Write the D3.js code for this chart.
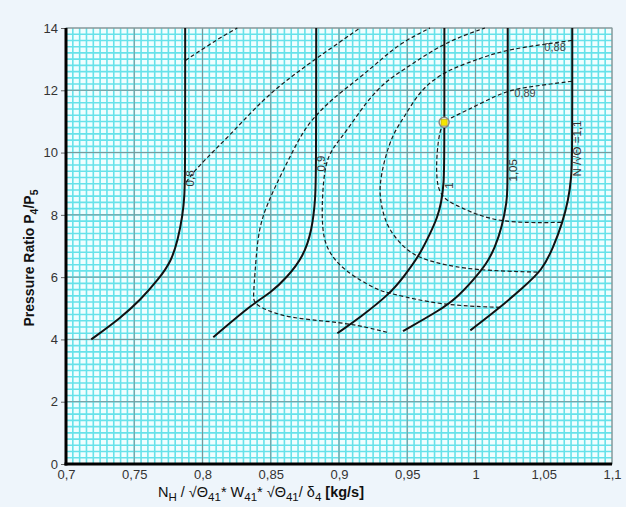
<!DOCTYPE html>
<html>
<head>
<meta charset="utf-8">
<script src="https://cdn.jsdelivr.net/npm/d3@7"></script>
<style>
  body { margin: 0; background: #eef5fb; }
  svg { display: block; font-family: "Liberation Sans", Arial, sans-serif; }
</style>
</head>
<body>
<div id="container"></div>
<script>
/* CONSTANTS AND GLOBALS */
const width = 626,
  height = 507,
  margin = { top: 28, bottom: 43, left: 66, right: 14 }

/* DATA */
const xTicks = [0.7, 0.75, 0.8, 0.85, 0.9, 0.95, 1, 1.05, 1.1]
const xTickLabels = ["0,7", "0,75", "0,8", "0,85", "0,9", "0,95", "1", "1,05", "1,1"]
const yTicks = [0, 2, 4, 6, 8, 10, 12, 14]
const yTickLabels = ["0", "2", "4", "6", "8", "10", "12", "14"]

// speed lines N/sqrt(theta)
const speedNames = ["0,8", "0,9", "1", "1,05", "N /√Θ =1,1"]
const speed08 = [[0.7873, 14], [0.7873, 9.3], [0.7868, 8.6], [0.7855, 8.0], [0.782, 7.2], [0.777, 6.5], [0.7683, 5.96], [0.7544, 5.26], [0.7398, 4.68], [0.7185, 4.0]]
const speed09 = [[0.8833, 14], [0.8832, 9.4], [0.8828, 8.56], [0.8803, 7.51], [0.8737, 6.64], [0.862, 6.0], [0.8496, 5.48], [0.8371, 5.16], [0.8079, 4.07]]
const speed10 = [[0.9772, 14], [0.9772, 9.8], [0.9768, 9.0], [0.975, 8.4], [0.9721, 7.92], [0.9669, 7.41], [0.9581, 6.64], [0.9471, 6.0], [0.9376, 5.48], [0.9156, 4.71], [0.8988, 4.2]]
const speed105 = [[1.0236, 14], [1.0236, 9.6], [1.0233, 8.8], [1.0231, 8.47], [1.0194, 7.6], [1.0143, 6.96], [1.0084, 6.44], [0.9982, 5.9], [0.9865, 5.35], [0.974, 4.94], [0.9469, 4.27]]
const speed11 = [[1.0709, 14], [1.0709, 10.0], [1.0703, 9.2], [1.068, 8.47], [1.0636, 7.73], [1.057, 6.96], [1.0489, 6.22], [1.035, 5.68], [1.0182, 5.03], [0.9962, 4.29]]
const speedLabelY = [9.17, 9.65, 8.94, 9.43, 10.13]

// efficiency contours
const effE = [[0.7875, 12.96], [0.8131, 13.7], [0.8255, 14]]
const effF = [[0.788, 9.05], [0.7961, 9.53], [0.8202, 10.56], [0.8444, 11.71], [0.8642, 12.41], [0.8832, 13.02], [0.9154, 14]]
const effA = [[0.9352, 4.23], [0.9081, 4.52], [0.8788, 4.62], [0.8547, 4.78], [0.8378, 5.13], [0.8371, 5.35], [0.8386, 6.22], [0.8408, 7.5], [0.8474, 8.37], [0.8591, 9.43], [0.8737, 10.71], [0.8832, 11.19], [0.8935, 11.67], [0.9154, 12.41], [0.9301, 12.96], [0.9447, 13.51], [0.9667, 14]]
const effB = [[1.018, 5.03], [0.974, 5.1], [0.9374, 5.48], [0.928, 5.58], [0.903, 6.22], [0.8913, 6.86], [0.8876, 7.5], [0.8876, 8.56], [0.8898, 9.65], [0.8957, 10.17], [0.9059, 10.71], [0.9206, 11.67], [0.9352, 12.32], [0.9447, 12.58], [0.9769, 13.54], [1.0069, 14]]
const effC = [[1.0706, 13.6], [1.0238, 13.32], [1.0055, 13.06], [0.9769, 12.61], [0.9593, 12.0], [0.9477, 11.13], [0.9396, 10.62], [0.933, 9.75], [0.9294, 8.89], [0.9308, 8.31], [0.9352, 7.6], [0.9469, 6.96], [0.9579, 6.64], [0.9718, 6.45], [0.9974, 6.22], [1.0472, 6.16]]
const effD = [[1.0706, 12.29], [1.0421, 12.13], [1.0238, 12.0], [1.0084, 11.68], [0.9938, 11.36], [0.9813, 11.1], [0.977, 10.97], [0.9739, 10.72], [0.9718, 10.07], [0.9711, 9.21], [0.974, 8.56], [0.9887, 8.24], [1.0157, 7.73], [1.0633, 7.76]]
const effLabels = [{ text: "0,88", x: 1.0583, y: 13.38 }, { text: "0,89", x: 1.0363, y: 11.9 }]

// operating point
const opPoint = [0.977, 10.97]

/* SCALES */
const xScale = d3.scaleLinear()
  .domain([0.7, 1.1])
  .range([margin.left, width - margin.right])

const yScale = d3.scaleLinear()
  .domain([0, 14])
  .range([height - margin.bottom, margin.top])

const svg = d3.select("#container")
  .append("svg")
  .attr("width", width)
  .attr("height", height)

const plotW = width - margin.left - margin.right
const plotH = height - margin.top - margin.bottom

// grid background
svg.append("rect")
  .attr("x", margin.left)
  .attr("y", margin.top)
  .attr("width", plotW)
  .attr("height", plotH)
  .attr("fill", "#f0feff")

const minorX = d3.range(1, 80).map(i => 0.7 + i * 0.005)
const minorY = d3.range(1, 70).map(i => i * 0.2)

svg.append("g")
  .selectAll("line")
  .data(minorX)
  .join("line")
  .attr("x1", d => xScale(d))
  .attr("x2", d => xScale(d))
  .attr("y1", margin.top)
  .attr("y2", height - margin.bottom)
  .attr("stroke", "#66e2ea")
  .attr("stroke-width", 1.6)

svg.append("g")
  .selectAll("line")
  .data(minorY)
  .join("line")
  .attr("y1", d => yScale(d))
  .attr("y2", d => yScale(d))
  .attr("x1", margin.left)
  .attr("x2", width - margin.right)
  .attr("stroke", "#66e2ea")
  .attr("stroke-width", 1.6)

// major grid
svg.append("g")
  .selectAll("line")
  .data(xTicks)
  .join("line")
  .attr("x1", d => xScale(d))
  .attr("x2", d => xScale(d))
  .attr("y1", margin.top)
  .attr("y2", height - margin.bottom)
  .attr("stroke", "#7d9496")
  .attr("stroke-width", 1)

svg.append("g")
  .selectAll("line")
  .data(yTicks)
  .join("line")
  .attr("y1", d => yScale(d))
  .attr("y2", d => yScale(d))
  .attr("x1", margin.left)
  .attr("x2", width - margin.right)
  .attr("stroke", "#7d9496")
  .attr("stroke-width", 1)

// frame
svg.append("rect")
  .attr("x", margin.left)
  .attr("y", margin.top)
  .attr("width", plotW)
  .attr("height", plotH)
  .attr("fill", "none")
  .attr("stroke", "#8a9a9c")

/* AXES */
const xAxis = d3.axisBottom(xScale)
  .tickValues(xTicks)
  .tickFormat((d, i) => xTickLabels[i])
  .tickSize(0)
  .tickPadding(6)

const yAxis = d3.axisLeft(yScale)
  .tickValues(yTicks)
  .tickFormat((d, i) => yTickLabels[i])
  .tickSize(5)
  .tickPadding(3)

svg.append("g")
  .attr("transform", `translate(0,${height - margin.bottom})`)
  .call(xAxis)
  .call(g => g.select(".domain").remove())
  .call(g => g.selectAll("text").attr("font-size", 13).attr("fill", "#333").attr("font-family", "Liberation Sans, Arial, sans-serif"))

svg.append("g")
  .attr("transform", `translate(${margin.left},0)`)
  .call(yAxis)
  .call(g => g.select(".domain").remove())
  .call(g => g.selectAll("line").attr("stroke", "#666"))
  .call(g => g.selectAll("text").attr("font-size", 13).attr("fill", "#333").attr("font-family", "Liberation Sans, Arial, sans-serif"))

svg.append("line")
  .attr("x1", margin.left).attr("x2", margin.left)
  .attr("y1", margin.top).attr("y2", height - margin.bottom + 1.5)
  .attr("stroke", "#000").attr("stroke-width", 3)

svg.append("line")
  .attr("x1", margin.left - 1.5).attr("x2", width - margin.right)
  .attr("y1", height - margin.bottom).attr("y2", height - margin.bottom)
  .attr("stroke", "#000").attr("stroke-width", 3)

/* LINES */
const line = d3.line()
  .x(d => xScale(d[0]))
  .y(d => yScale(d[1]))
  .curve(d3.curveBasis)

const effLines = [effE, effF, effA, effB, effC, effD]
svg.append("g")
  .selectAll("path")
  .data(effLines)
  .join("path")
  .attr("d", d => line(d))
  .attr("fill", "none")
  .attr("stroke", "#1a1a1a")
  .attr("stroke-width", 1.2)
  .attr("stroke-dasharray", "4,2.5")

const speedLines = [speed08, speed09, speed10, speed105, speed11]
svg.append("g")
  .selectAll("path")
  .data(speedLines)
  .join("path")
  .attr("d", d => line(d))
  .attr("fill", "none")
  .attr("stroke", "#111")
  .attr("stroke-width", 2)

// speed labels
svg.append("g")
  .selectAll("text")
  .data(speedNames)
  .join("text")
  .attr("transform", (d, i) => `translate(${xScale(speedLines[i][0][0]) + 9},${yScale(speedLabelY[i])}) rotate(-90)`)
  .attr("text-anchor", "middle")
  .attr("font-size", 11.5)
  .attr("fill", "#333")
  .text(d => d)

// efficiency labels
svg.append("g")
  .selectAll("text")
  .data(effLabels)
  .join("text")
  .attr("x", d => xScale(d.x))
  .attr("y", d => yScale(d.y))
  .attr("dy", "0.35em")
  .attr("text-anchor", "middle")
  .attr("font-size", 11)
  .attr("fill", "#444")
  .text(d => d.text)

// operating point
svg.append("circle")
  .attr("cx", xScale(opPoint[0]))
  .attr("cy", yScale(opPoint[1]))
  .attr("r", 5)
  .attr("fill", "#eeeecc")
  .attr("stroke", "#888")
  .attr("stroke-width", 1.5)

svg.append("rect")
  .attr("x", xScale(opPoint[0]) - 3)
  .attr("y", yScale(opPoint[1]) - 3)
  .attr("width", 6)
  .attr("height", 6)
  .attr("fill", "#f5e600")
  .attr("stroke", "#b0a000")
  .attr("stroke-width", 0.5)

/* AXIS TITLES */
const xTitle = svg.append("text")
  .attr("x", 261)
  .attr("y", 497)
  .attr("text-anchor", "middle")
  .attr("font-size", 14.5)
  .attr("fill", "#111")

const subParts = [
  ["N", false], ["H", true], [" / √Θ", false], ["41", true], ["* W", false], ["41", true],
  ["* √Θ", false], ["41", true], ["/ δ", false], ["4", true]
]
subParts.forEach(([t, sub], i) => {
  const prevSub = i > 0 && subParts[i - 1][1]
  xTitle.append("tspan")
    .attr("dy", sub ? 4 : (prevSub ? -4 : 0))
    .attr("font-size", sub ? 11.5 : 14.5)
    .text(t)
})
xTitle.append("tspan")
  .attr("dy", -4)
  .attr("font-weight", "bold")
  .text(" [kg/s]")

const yTitle = svg.append("text")
  .attr("transform", "translate(34,258) rotate(-90)")
  .attr("text-anchor", "middle")
  .attr("font-size", 14)
  .attr("font-weight", "bold")
  .attr("fill", "#111")

yTitle.append("tspan").text("Pressure  Ratio P")
yTitle.append("tspan").attr("dy", 4).attr("font-size", 10.5).text("4")
yTitle.append("tspan").attr("dy", -4).text("/P")
yTitle.append("tspan").attr("dy", 4).attr("font-size", 10.5).text("5")
</script>
</body>
</html>
